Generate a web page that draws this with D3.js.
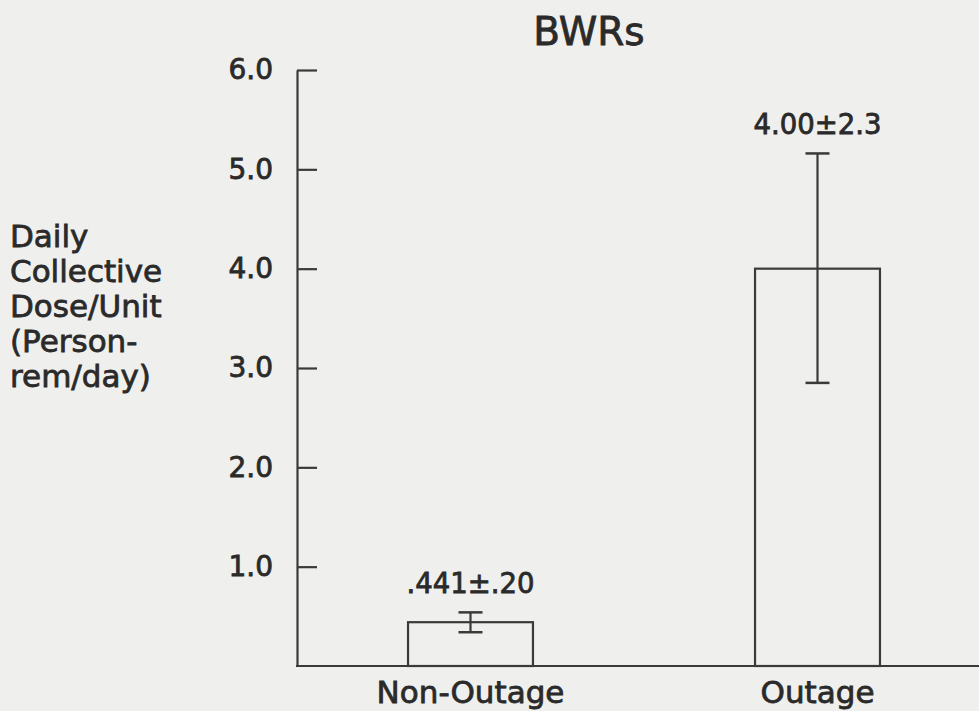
<!DOCTYPE html>
<html>
<head>
<meta charset="utf-8">
<script src="https://cdn.jsdelivr.net/npm/d3@7"></script>
<style>
html,body{margin:0;padding:0;background:#efefed;}
svg{display:block;}
text{font-family:"DejaVu Sans",sans-serif;fill:#2a2a2a;stroke:#2a2a2a;stroke-width:0.8px;}
</style>
</head>
<body>
<svg id="chart" width="979" height="711"></svg>
<script>
const title = "BWRs";
const categories = ["Non-Outage", "Outage"];
const values = [0.441, 4.00];
const errLow = [0.34, 2.85];
const errHigh = [0.54, 5.16];
const valueLabels = [".441\u00b1.20", "4.00\u00b12.3"];
const yTicks = [1, 2, 3, 4, 5, 6];
const yTickLabels = ["1.0", "2.0", "3.0", "4.0", "5.0", "6.0"];
const yTitle = ["Daily", "Collective", "Dose/Unit", "(Person-", "rem/day)"];

const svg = d3.select("#chart");
const ink = "#3a3a3a";

const y = d3.scaleLinear().domain([0, 6]).range([666, 70]);
const x = d3.scaleBand().domain(categories).range([297, 991])
  .paddingInner(0.64).paddingOuter(0.32);

// title
svg.append("text").attr("x", 589).attr("y", 45).attr("text-anchor", "middle")
  .style("font-size", "39px").text(title);

// y axis
const yAxis = d3.axisLeft(y).tickValues(yTicks)
  .tickFormat((d, i) => yTickLabels[i])
  .tickSizeInner(-20).tickSizeOuter(0).tickPadding(24);
const gy = svg.append("g").attr("transform", "translate(297,0)").call(yAxis);
gy.attr("font-family", null).attr("font-size", null);
gy.select(".domain").attr("stroke", ink).attr("stroke-width", 2.2);
gy.selectAll(".tick line").attr("stroke", ink).attr("stroke-width", 2.2);
gy.selectAll(".tick text").style("font-size", "28px").attr("fill", "#2a2a2a");

// x axis baseline
svg.append("line").attr("x1", 296).attr("x2", 979)
  .attr("y1", y(0)).attr("y2", y(0))
  .attr("stroke", ink).attr("stroke-width", 2.2);

// bars
svg.selectAll("rect.bar").data(categories).join("rect").attr("class", "bar")
  .attr("x", d => x(d)).attr("width", x.bandwidth())
  .attr("y", (d, i) => y(values[i]))
  .attr("height", (d, i) => y(0) - y(values[i]))
  .attr("fill", "none").attr("stroke", ink).attr("stroke-width", 2.2);

// error bars
const cx = d => x(d) + x.bandwidth() / 2;
const eg = svg.selectAll("g.err").data(categories).join("g").attr("class", "err");
eg.append("line").attr("x1", cx).attr("x2", cx)
  .attr("y1", (d, i) => y(errLow[i])).attr("y2", (d, i) => y(errHigh[i]))
  .attr("stroke", ink).attr("stroke-width", 2.2);
eg.append("line").attr("x1", d => cx(d) - 12).attr("x2", d => cx(d) + 12)
  .attr("y1", (d, i) => y(errLow[i])).attr("y2", (d, i) => y(errLow[i]))
  .attr("stroke", ink).attr("stroke-width", 2.5);
eg.append("line").attr("x1", d => cx(d) - 12).attr("x2", d => cx(d) + 12)
  .attr("y1", (d, i) => y(errHigh[i])).attr("y2", (d, i) => y(errHigh[i]))
  .attr("stroke", ink).attr("stroke-width", 2.5);

// value labels
svg.selectAll("text.val").data(categories).join("text").attr("class", "val")
  .attr("x", cx).attr("y", (d, i) => y(errHigh[i]) - 19)
  .attr("text-anchor", "middle").style("font-size", "27.5px")
  .text((d, i) => valueLabels[i]);

// category labels
svg.selectAll("text.cat").data(categories).join("text").attr("class", "cat")
  .attr("x", cx).attr("y", 703).attr("text-anchor", "middle")
  .style("font-size", "31px").text(d => d);

// y title
svg.append("text").attr("x", 10).attr("y", 247)
  .style("font-size", "31px")
  .selectAll("tspan").data(yTitle).join("tspan")
  .attr("x", 10).attr("dy", (d, i) => i === 0 ? 0 : 35).text(d => d);
</script>
</body>
</html>
